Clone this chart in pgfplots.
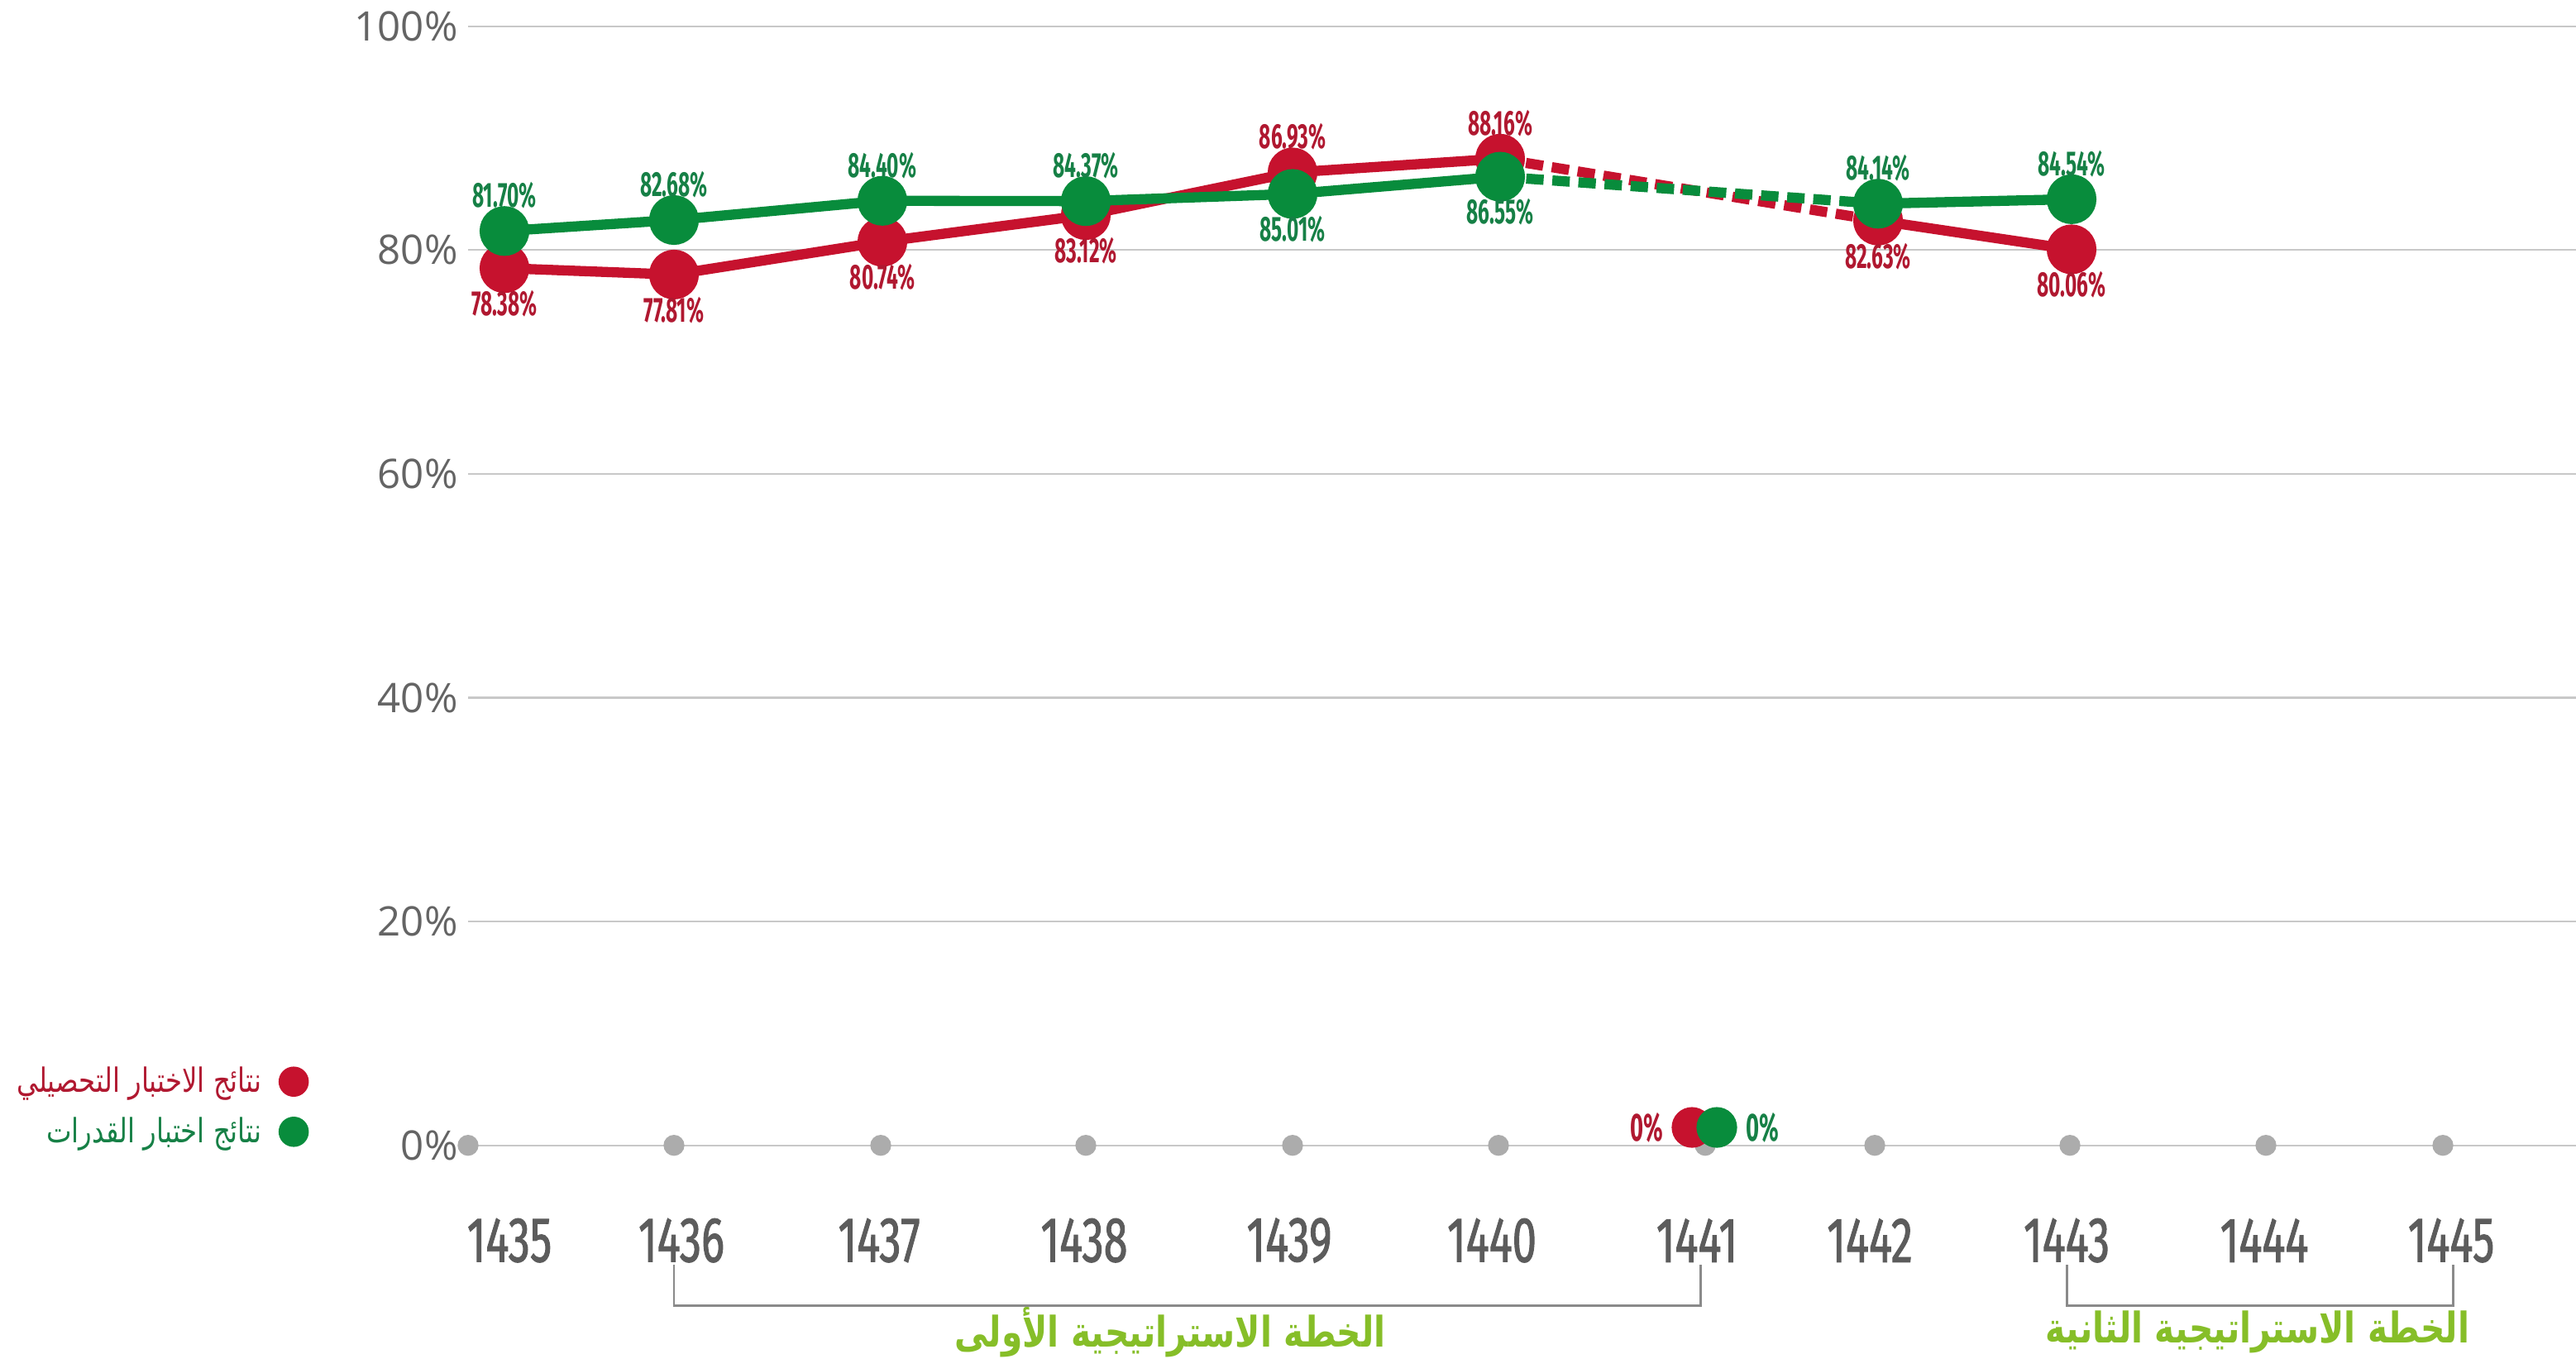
\documentclass[border=0pt]{standalone}
\usepackage{fontspec}
\usepackage{pgfplots}
\pgfplotsset{compat=1.18}
\setmainfont{Open Sans}
\newfontfamily\numfont[FakeStretch=0.58]{Fira Sans}
\newfontfamily\yearfont[FakeStretch=0.68, FakeBold=1.2]{Fira Sans}
\newfontfamily\arabicfont[Script=Arabic, FakeStretch=0.8]{DejaVu Sans}
\TeXXeTstate=1

\definecolor{linered}{RGB}{198,18,46}
\definecolor{linegreen}{RGB}{8,140,60}
\definecolor{labred}{RGB}{176,24,48}
\definecolor{labgreen}{RGB}{22,128,70}
\definecolor{tickgray}{RGB}{100,100,100}
\definecolor{yeargray}{RGB}{92,92,92}
\definecolor{gridgray}{RGB}{200,200,200}
\definecolor{dotgray}{RGB}{172,172,172}
\definecolor{plangreen}{RGB}{134,190,40}

% x = position along the axis, y = result in percent, dir = label above (1) or below (-1)
\pgfplotstableread{
x y dir
6.10 78.38 -1
8.15 77.81 -1
10.67 80.74 -1
13.13 83.12 -1
15.63 86.93 1
18.14 88.16 1
}\redA
\pgfplotstableread{
x y dir
22.71 82.63 -1
25.05 80.06 -1
}\redB
\pgfplotstableread{
x y
18.14 88.16
22.71 82.63
}\redgap
\pgfplotstableread{
x y dir
6.10 81.70 1
8.15 82.68 1
10.67 84.40 1
13.13 84.37 1
15.63 85.01 -1
18.14 86.55 -1
}\greenA
\pgfplotstableread{
x y dir
22.71 84.14 1
25.05 84.54 1
}\greenB
\pgfplotstableread{
x y
18.14 86.55
22.71 84.14
}\greengap
\pgfplotstableread{
x y
5.66 0
8.15 0
10.65 0
13.13 0
15.63 0
18.12 0
20.62 0
22.67 0
25.03 0
27.40 0
29.54 0
}\years

\begin{document}
\begin{tikzpicture}
\path[use as bounding box] (0,0) rectangle (31.15,16.43);
\begin{axis}[
    at={(5.66cm,2.583cm)}, anchor=south west,
    scale only axis,
    width=25.49cm, height=13.53cm,
    xmin=5.66, xmax=31.15,
    ymin=0, ymax=100,
    clip=false,
    axis line style={draw=none},
    tick style={draw=none},
    ymajorgrids,
    major grid style={gridgray, line width=0.6pt},
    ytick={0,20,40,60,80,100},
    yticklabel={\pgfmathprintnumber{\tick}\%},
    /pgf/number format/assume math mode=true,
    yticklabel style={font=\fontsize{14}{16}\selectfont, text=tickgray},
    xtick={6.16,8.24,10.63,13.11,15.59,18.04,20.52,22.61,24.99,27.38,29.64},
    xticklabels={1435,1436,1437,1438,1439,1440,1441,1442,1443,1444,1445},
    xticklabel style={font=\yearfont\fontsize{22}{24}\selectfont, text=yeargray, anchor=center, yshift=-1.15cm},
    legend style={at={(axis cs:3.84,3.45)}, anchor=east, draw=none, fill=none,
        legend plot pos=right, legend cell align=right, row sep=3pt,
        font=\arabicfont\fontsize{11.5}{14}\selectfont},
    every node near coord/.append style={font=\numfont\bfseries\fontsize{12}{14}\selectfont},
    label line/.style={line width=3.5pt, mark=*, mark size=6.8pt,
        nodes near coords={\pgfmathprintnumber[fixed,fixed zerofill,precision=2]{\pgfplotspointmeta}\%},
        visualization depends on={\thisrow{dir}\as\dir},
        every node near coord/.append style={anchor=center, yshift={\dir*0.43cm}}},
]
\addlegendimage{only marks, mark=*, mark size=5pt, color=linered}
\addlegendentry{\textcolor{labred}{\beginR نتائج الاختبار التحصيلي\endR}\hspace*{0.14cm}}
\addlegendimage{only marks, mark=*, mark size=5pt, color=linegreen}
\addlegendentry{\textcolor{labgreen}{\beginR نتائج اختبار القدرات\endR}\hspace*{0.14cm}}

% grey year dots on the baseline
\addplot[forget plot, only marks, mark=*, mark size=3.4pt, color=dotgray] table {\years};

% dashed gaps over 1441
\addplot[forget plot, linered, line width=3.5pt, dash pattern=on 6pt off 3pt] table {\redgap};
\addplot[forget plot, linegreen, line width=3.5pt, dash pattern=on 6pt off 3pt] table {\greengap};

% red series
\addplot[forget plot, linered, label line, every node near coord/.append style={text=labred}] table[x=x, y=y] {\redA};
\addplot[forget plot, linered, label line, every node near coord/.append style={text=labred}] table[x=x, y=y] {\redB};

% green series
\addplot[forget plot, linegreen, label line, every node near coord/.append style={text=labgreen}] table[x=x, y=y] {\greenA};
\addplot[forget plot, linegreen, label line, every node near coord/.append style={text=labgreen}] table[x=x, y=y] {\greenB};

% 1441: both tests 0%
\addplot[forget plot, only marks, mark=*, mark size=6.8pt, color=linered,
    nodes near coords={0\%}, every node near coord/.append style={font=\numfont\bfseries\fontsize{13.5}{15}\selectfont, anchor=east, xshift=-6.5pt, yshift=0pt, text=labred}]
    coordinates {(20.46,1.6)};
\addplot[forget plot, only marks, mark=*, mark size=6.8pt, color=linegreen,
    nodes near coords={0\%}, every node near coord/.append style={font=\numfont\bfseries\fontsize{13.5}{15}\selectfont, anchor=west, xshift=6.5pt, yshift=0pt, text=labgreen}]
    coordinates {(20.76,1.6)};

% strategic plan brackets
\draw[dotgray!80!black, line width=0.85pt] (axis cs:8.15,-10.7) -- (axis cs:8.15,-14.35) -- (axis cs:20.56,-14.35) -- (axis cs:20.56,-10.7);
\draw[dotgray!80!black, line width=0.85pt] (axis cs:24.99,-10.7) -- (axis cs:24.99,-14.35) -- (axis cs:29.66,-14.35) -- (axis cs:29.66,-10.7);
\node[text=plangreen, font=\arabicfont\bfseries\fontsize{14.5}{18}\selectfont] at (axis cs:14.15,-16.7) {\beginR الخطة الاستراتيجية الأولى\endR};
\node[text=plangreen, font=\arabicfont\bfseries\fontsize{14.5}{18}\selectfont] at (axis cs:27.30,-16.7) {\beginR الخطة الاستراتيجية الثانية\endR};
\end{axis}
\end{tikzpicture}
\end{document}
